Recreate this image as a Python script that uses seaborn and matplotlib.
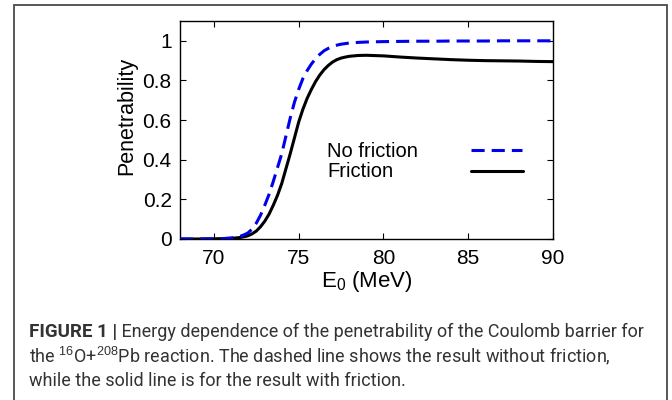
import matplotlib
matplotlib.use("Agg")
import numpy as np
import pandas as pd
import seaborn as sns
import matplotlib.pyplot as plt
from matplotlib.lines import Line2D
from matplotlib.patches import Rectangle
from matplotlib.ticker import FuncFormatter

# ---------------- data ----------------
energy = [68, 69, 70, 70.5, 71, 71.5, 71.75, 72, 72.25, 72.5, 72.75, 73,
          73.25, 73.5, 73.75, 74, 74.25, 74.5, 74.75, 75, 75.25, 75.5, 75.75,
          76, 76.25, 76.5, 76.75, 77, 77.25, 77.5, 77.75, 78, 78.5, 79, 80,
          81, 82, 83, 84, 85, 86, 87, 88, 89, 90]
p_no_friction = [0, 0, 0.001, 0.002, 0.005, 0.012, 0.02, 0.03, 0.05, 0.08,
                 0.12, 0.17, 0.225, 0.29, 0.36, 0.43, 0.52, 0.61, 0.69,
                 0.755, 0.81, 0.85, 0.883, 0.91, 0.932, 0.95, 0.962, 0.972,
                 0.978, 0.983, 0.986, 0.989, 0.992, 0.994, 0.996, 0.997,
                 0.998, 0.998, 0.999, 0.999, 0.999, 1.0, 1.0, 1.0, 1.0]
p_friction = [0, 0, 0.001, 0.002, 0.003, 0.007, 0.011, 0.016, 0.026, 0.04,
              0.062, 0.09, 0.125, 0.17, 0.22, 0.28, 0.355, 0.43, 0.51, 0.59,
              0.655, 0.71, 0.755, 0.795, 0.828, 0.855, 0.876, 0.893, 0.905,
              0.913, 0.918, 0.922, 0.926, 0.927, 0.924, 0.918, 0.913, 0.909,
              0.905, 0.902, 0.900, 0.899, 0.898, 0.896, 0.895]
series_names = ["No friction", "Friction"]
x_ticks = [70, 75, 80, 85, 90]
y_ticks = [0, 0.2, 0.4, 0.6, 0.8, 1.0]
x_label = "E$_\\mathrm{0}$ (MeV)"
y_label = "Penetrability"
caption_bold = "FIGURE 1 |"
caption_line1 = " Energy dependence of the penetrability of the Coulomb barrier for"
caption_line2 = "the $^{16}$O+$^{208}$Pb reaction. The dashed line shows the result without friction,"
caption_line3 = "while the solid line is for the result with friction."

# ---------------- style ----------------
sns.set_style("ticks")
plt.rcParams["font.family"] = ["Liberation Sans", "DejaVu Sans"]
plt.rcParams["mathtext.fontset"] = "custom"
plt.rcParams["mathtext.rm"] = "Liberation Sans"
plt.rcParams["mathtext.it"] = "Liberation Sans:italic"
plt.rcParams["mathtext.bf"] = "Liberation Sans:bold"

BLUE = "#0000ee"
BLACK = "#000000"
DASH = (4.3, 2.3)
LW = 2.2

W, H = 672, 400


def fx(px):
    return px / W


def fy(py):
    return 1 - py / H


n = len(energy)
df = pd.DataFrame({
    "E": energy * 2,
    "P": p_friction + p_no_friction,
    "series": [series_names[1]] * n + [series_names[0]] * n,
})

fig = plt.figure(figsize=(W / 100, H / 100), dpi=100)
fig.patch.set_facecolor("white")
ax = fig.add_axes([fx(180), fy(239), fx(553) - fx(180), fy(21) - fy(239)])

sns.lineplot(data=df, x="E", y="P", hue="series", style="series",
             hue_order=[series_names[1], series_names[0]],
             style_order=[series_names[1], series_names[0]],
             palette={series_names[0]: BLUE, series_names[1]: BLACK},
             dashes={series_names[0]: DASH, series_names[1]: ""},
             linewidth=LW, legend=False, estimator=None, ax=ax)
for ln in ax.lines:
    ln.set_solid_joinstyle("round")
    if matplotlib.colors.to_hex(ln.get_color()) == BLUE:
        ln.set_zorder(3)

ax.set_xlim(68, 90)
ax.set_ylim(0, 1.1)
ax.set_xticks(x_ticks)
ax.set_yticks(y_ticks)
ax.yaxis.set_major_formatter(FuncFormatter(lambda v, p: "%g" % v))
ax.tick_params(direction="in", length=4.5, width=0.8, top=True, right=True,
               labelsize=15, colors="black")
ax.tick_params(axis="y", pad=6)
ax.tick_params(axis="x", pad=7)
for sp in ax.spines.values():
    sp.set_visible(True)
    sp.set_color("black")
    sp.set_linewidth(1.0)

ax.set_ylabel(y_label, fontsize=15.5, color="black")
ax.yaxis.set_label_coords((137 - 180) / 373, (239 - 116) / 218)
ax.set_xlabel(x_label, fontsize=16, color="black", labelpad=1)

# key (gnuplot style: text left, sample right)
fig.text(fx(327), fy(157), series_names[0], fontsize=14.5, va="baseline",
         ha="left", color="black")
fig.text(fx(327), fy(177), series_names[1], fontsize=14.5, va="baseline",
         ha="left", color="black")
fig.add_artist(Line2D([fx(471), fx(522)], [fy(150), fy(150)], color=BLUE,
                      lw=LW, dashes=DASH, transform=fig.transFigure))
fig.add_artist(Line2D([fx(471), fx(523)], [fy(171), fy(171)], color=BLACK,
                      lw=LW, transform=fig.transFigure))

# frame around figure + caption
fig.add_artist(Rectangle((fx(14), -0.05), fx(667) - fx(14), fy(4.7) + 0.05,
                         transform=fig.transFigure, fill=False,
                         edgecolor="#4a4a4a", lw=1.3))

# caption
CAP = "#333333"
CAPFONT = ["Roboto", "DejaVu Sans"]
fig.canvas.draw()
r = fig.canvas.get_renderer()
tb = fig.text(fx(29), fy(337), caption_bold, fontsize=13.5, fontweight="bold",
              color=CAP, va="baseline", ha="left", family=CAPFONT)
bb = tb.get_window_extent(r)
probe = fig.text(0, 0, caption_line1, fontsize=12, family=CAPFONT)
wprobe = probe.get_window_extent(r).width
probe.remove()
cap_size = 12 * (641 - bb.x1) / wprobe
fig.text(bb.x1 / W, fy(337), caption_line1, fontsize=cap_size, color=CAP,
         va="baseline", ha="left", family=CAPFONT)
fig.text(fx(29), fy(362), caption_line2, fontsize=cap_size, color=CAP,
         va="baseline", ha="left", family=CAPFONT)
fig.text(fx(29), fy(386), caption_line3, fontsize=cap_size, color=CAP,
         va="baseline", ha="left", family=CAPFONT)

fig.savefig("out.png", dpi=100)
